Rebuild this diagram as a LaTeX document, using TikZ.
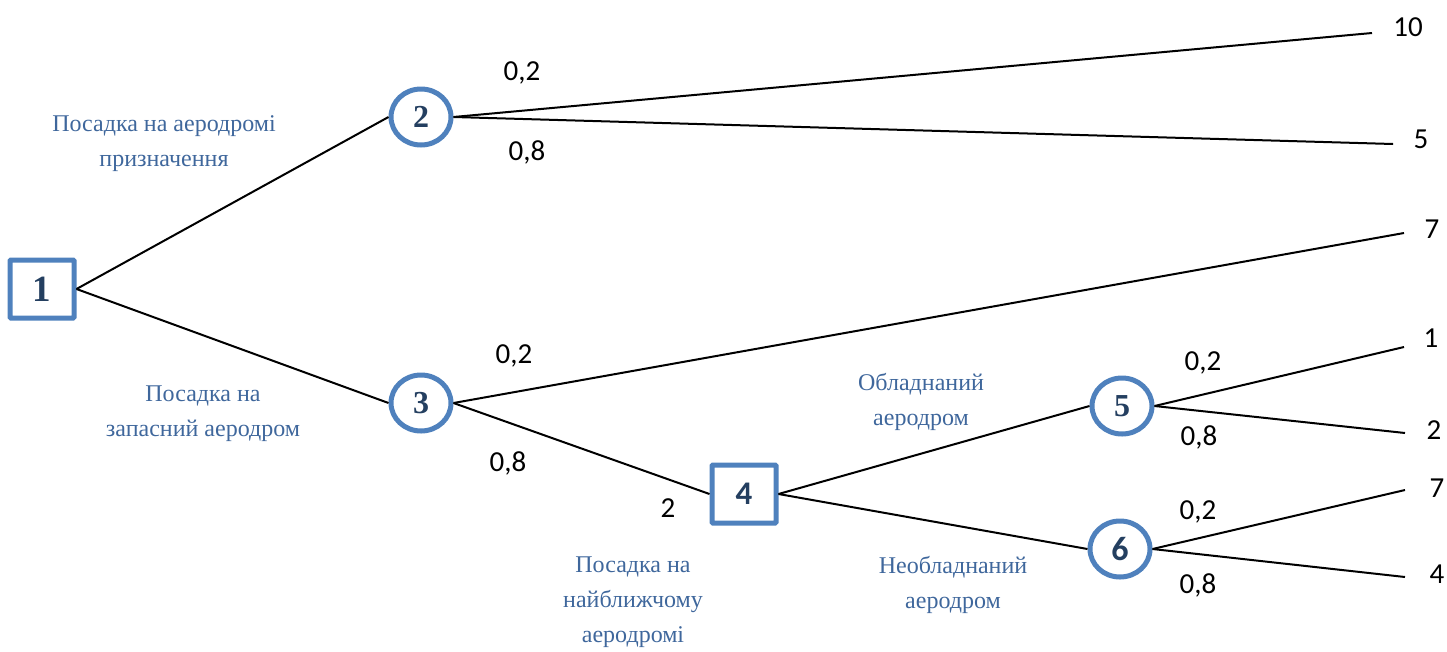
\documentclass[tikz,border=0pt]{standalone}
\usepackage{fontspec}
\setmainfont{Liberation Serif}
\newfontfamily\calib{Carlito}
\usetikzlibrary{shapes.geometric}
\definecolor{bord}{HTML}{4F81BD}
\definecolor{numc}{HTML}{243F60}
\definecolor{labc}{HTML}{3F679C}
\tikzset{
  sq/.style={draw=bord, line width=5pt, rounded corners=1pt, minimum width=64pt, minimum height=58pt, inner sep=0pt, text=numc, font=\fontsize{31}{31}\selectfont\bfseries},
  cir/.style={draw=bord, ellipse, line width=5pt, minimum width=60pt, minimum height=56pt, inner sep=0pt, text=numc, font=\fontsize{32}{32}\selectfont\bfseries},
  edge/.style={line width=2pt, black},
  prob/.style={font=\calib\fontsize{29}{29}\selectfont, inner sep=0pt},
  lab/.style={font=\fontsize{24}{35}\selectfont, text=labc, align=center, inner sep=0pt},
}
\begin{document}
\begin{tikzpicture}[x=1pt,y=-1pt]
\useasboundingbox (0,0) rectangle (1447,651);
\node[sq, font=\fontsize{37}{37}\selectfont\bfseries] (n1) at (42,289) {1};
\node[cir] (n2) at (421,117) {2};
\node[cir] (n3) at (421,403) {3};
\node[sq, font=\calib\fontsize{33}{33}\selectfont\bfseries] (n4) at (744,494) {4};
\node[cir] (n5) at (1122,406) {5};
\node[cir, font=\calib\fontsize{34}{34}\selectfont\bfseries] (n6) at (1120,549) {6};
% end points
\coordinate (e1) at (1372,33);
\coordinate (e2) at (1393,144);
\coordinate (e3) at (1404,233);
\coordinate (e4) at (1404,347);
\coordinate (e5) at (1405,433);
\coordinate (e6) at (1405,490);
\coordinate (e7) at (1405,577);
\draw[edge] (n1.east) -- (n2.west);
\draw[edge] (n1.east) -- (n3.west);
\draw[edge] (n2.east) -- (e1);
\draw[edge] (n2.east) -- (e2);
\draw[edge] (n3.east) -- (e3);
\draw[edge] (n3.east) -- (n4.west);
\draw[edge] (n4.east) -- (n5.west);
\draw[edge] (n4.east) -- (n6.west);
\draw[edge] (n5.east) -- (e4);
\draw[edge] (n5.east) -- (e5);
\draw[edge] (n6.east) -- (e6);
\draw[edge] (n6.east) -- (e7);
% end values
\node[prob] (v1) at (1408,27) {10};
\node[prob] (v2) at (1421,139) {5};
\node[prob] (v3) at (1432,229) {7};
\node[prob] (v4) at (1431,338) {1};
\node[prob] (v5) at (1434,430) {2};
\node[prob] (v6) at (1437,488) {7};
\node[prob] (v7) at (1437,574) {4};
% probabilities
\node[prob] (p1) at (522,73) {0,2};
\node[prob] (p2) at (527,152) {0,8};
\node[prob] (p3) at (514,356) {0,2};
\node[prob] (p4) at (508,463) {0,8};
\node[prob] (p5) at (668,508) {2};
\node[prob] (p6) at (1203,363) {0,2};
\node[prob] (p7) at (1199,437) {0,8};
\node[prob] (p8) at (1198,512) {0,2};
\node[prob] (p9) at (1198,585) {0,8};
% labels
\node[lab] (l1) at (164,144) {Посадка на аеродромі\\призначення};
\node[lab] (l2) at (203,414) {Посадка на\\запасний аеродром};
\node[lab] (l3) at (921,402) {Обладнаний\\аеродром};
\node[lab] (l4) at (633,602) {Посадка на\\найближчому\\аеродромі};
\node[lab] (l5) at (953,585) {Необладнаний\\аеродром};
\end{tikzpicture}
\end{document}
